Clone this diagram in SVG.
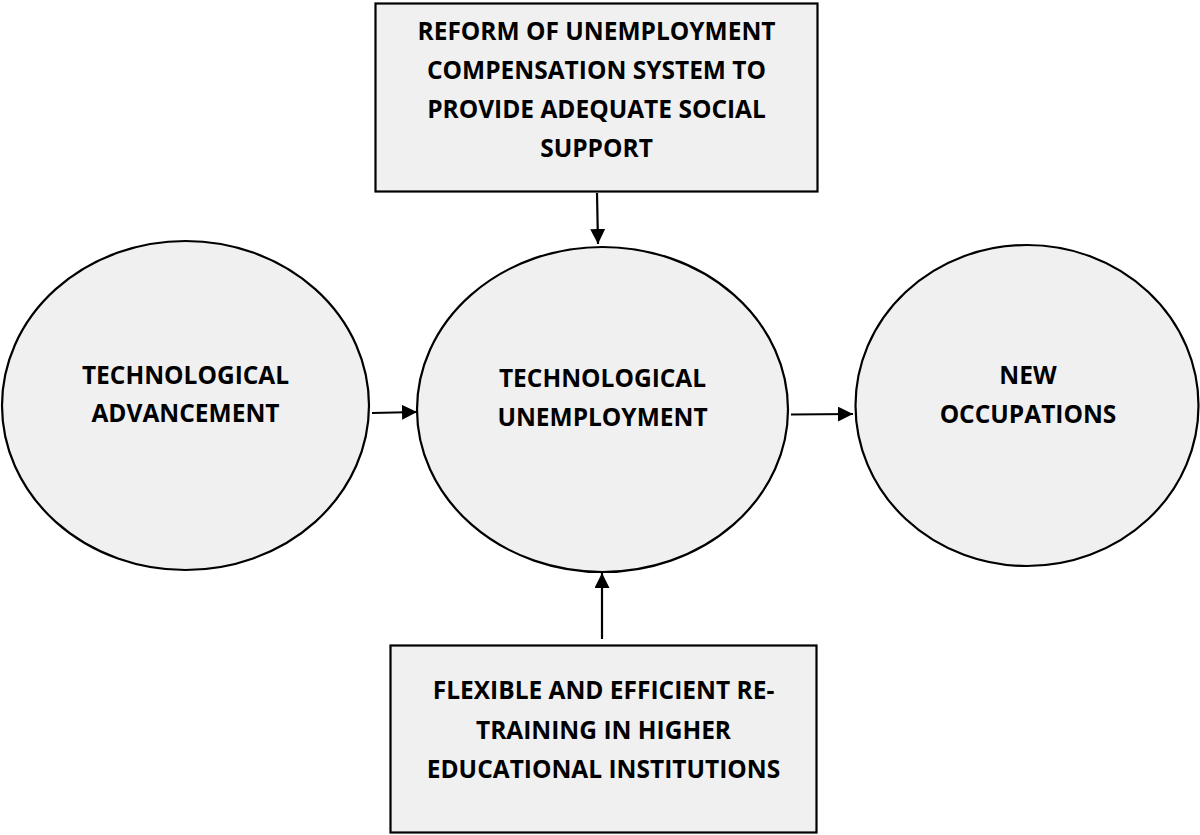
<svg xmlns="http://www.w3.org/2000/svg" width="1200" height="835" viewBox="0 0 1200 835">
  <defs>
    <marker id="arrow" viewBox="0 0 10 10" refX="10" refY="5" markerWidth="15" markerHeight="15" markerUnits="userSpaceOnUse" orient="auto">
      <path d="M0,0 L10,5 L0,10 Z" fill="#000"/>
    </marker>
    <style>
      .shape { fill: #f0f0f0; stroke: #000; stroke-width: 2.2; }
      .label { font-family: "Open Sans", "Noto Sans", sans-serif; font-weight: bold; font-size: 24.5px; fill: #000; text-anchor: middle; }
      .conn { stroke: #000; stroke-width: 2.2; fill: none; marker-end: url(#arrow); }
    </style>
  </defs>
  <rect width="1200" height="835" fill="#fff"/>

  <g id="reform-box">
    <rect class="shape" x="375.5" y="3.5" width="442" height="188"/>
    <text class="label" x="596.5" y="40">REFORM OF UNEMPLOYMENT</text>
    <text class="label" x="596.5" y="79">COMPENSATION SYSTEM TO</text>
    <text class="label" x="596.5" y="118">PROVIDE ADEQUATE SOCIAL</text>
    <text class="label" x="596.5" y="157">SUPPORT</text>
  </g>

  <g id="tech-advancement">
    <ellipse class="shape" cx="185.5" cy="405.5" rx="183.5" ry="164.5"/>
    <text class="label" x="185.5" y="384">TECHNOLOGICAL</text>
    <text class="label" x="185.5" y="422">ADVANCEMENT</text>
  </g>

  <g id="tech-unemployment">
    <ellipse class="shape" cx="602.5" cy="409.5" rx="185.5" ry="162.5"/>
    <text class="label" x="602.5" y="387">TECHNOLOGICAL</text>
    <text class="label" x="602.5" y="426">UNEMPLOYMENT</text>
  </g>

  <g id="new-occupations">
    <ellipse class="shape" cx="1027" cy="405.5" rx="171.5" ry="160.5"/>
    <text class="label" x="1028" y="384">NEW</text>
    <text class="label" x="1028" y="423">OCCUPATIONS</text>
  </g>

  <g id="retraining-box">
    <rect class="shape" x="390.5" y="645.5" width="426" height="187"/>
    <text class="label" x="603.5" y="699">FLEXIBLE AND EFFICIENT RE-</text>
    <text class="label" x="603.5" y="739">TRAINING IN HIGHER</text>
    <text class="label" x="603.5" y="778">EDUCATIONAL INSTITUTIONS</text>
  </g>

  <g id="connectors">
    <line class="conn" x1="597" y1="193" x2="598" y2="244"/>
    <line class="conn" x1="602" y1="639" x2="602" y2="573"/>
    <line class="conn" x1="372" y1="413" x2="417" y2="412"/>
    <line class="conn" x1="791" y1="414.5" x2="853" y2="414"/>
  </g>
</svg>
